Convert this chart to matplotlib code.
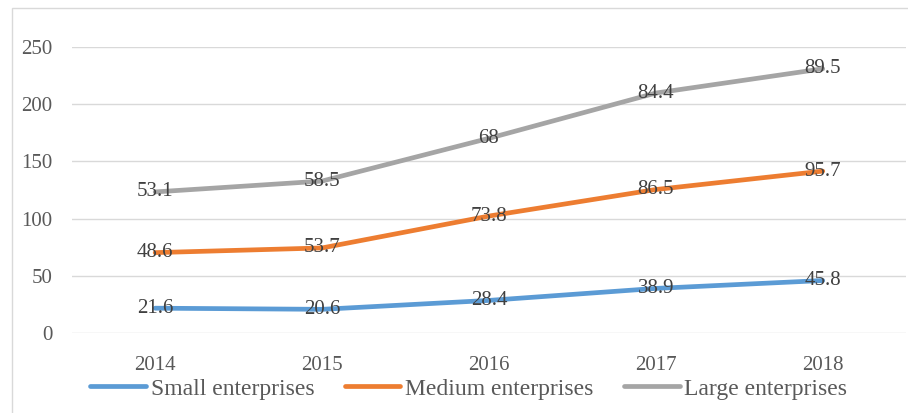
import numpy as np
import matplotlib.pyplot as plt
from matplotlib.patches import Rectangle

# data (labels show each group's own value, lines are stacked)
years = ['2014', '2015', '2016', '2017', '2018']
small = [21.6, 20.6, 28.4, 38.9, 45.8]
medium = [48.6, 53.7, 73.8, 86.5, 95.7]
large = [53.1, 58.5, 68, 84.4, 89.5]
names = ['Small enterprises', 'Medium enterprises', 'Large enterprises']
colors = ['#5B9BD5', '#ED7D31', '#A5A5A5']

plt.rcParams['font.family'] = ['Liberation Serif', 'DejaVu Serif']

fig = plt.figure(figsize=(9.08, 4.13), dpi=100)
ax = fig.add_axes([0.079, 0.194, 0.919, 0.692])
ax.patch.set_alpha(0)

# chart frame
fig.patches.append(Rectangle((12 / 908, -0.1), 1.2, 1 - 8 / 413 + 0.1, transform=fig.transFigure,
                             fill=False, edgecolor='#D9D9D9', linewidth=1, zorder=0))

x = np.arange(len(years))
s = np.array(small)
m = s + np.array(medium)
l = m + np.array(large)
for vals, lab, c, name in zip([s, m, l], [small, medium, large], colors, names):
    ax.plot(x, vals, color=c, linewidth=3.4, solid_capstyle='round', label=name, zorder=3)
    for xi, yi, t in zip(x, vals, lab):
        ax.text(xi, yi, f'{t:g}', ha='center', va='center', fontsize=15, color='#404040', zorder=4)

ax.set_xlim(-0.5, 4.5)
ax.set_ylim(0, 250)
ax.set_yticks(range(0, 251, 50))
ax.set_xticks(x)
ax.set_xticklabels(years)
ax.yaxis.grid(True, color='#D9D9D9', linewidth=1)
ax.set_axisbelow(True)
for sp in ax.spines.values():
    sp.set_visible(False)
ax.tick_params(length=0, labelsize=15, labelcolor='#595959')
ax.tick_params(axis='y', pad=14)
ax.tick_params(axis='x', pad=17)

ax.legend(loc='upper center', bbox_to_anchor=(0.476, -0.125), ncol=3, frameon=False,
          fontsize=17, labelcolor='#595959', handlelength=2.35, handletextpad=0.2,
          columnspacing=1.3, borderaxespad=0)

fig.savefig('out.png', dpi=100)
